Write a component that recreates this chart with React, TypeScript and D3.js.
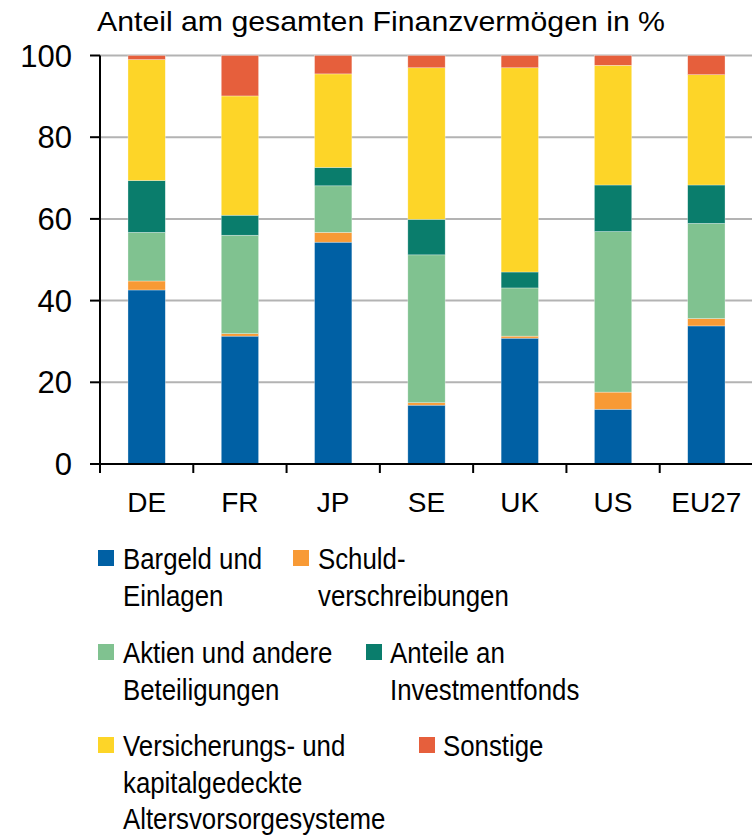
import React from 'react';
import * as d3 from 'd3';

const countries = ['DE', 'FR', 'JP', 'SE', 'UK', 'US', 'EU27'];
const bargeld = [42.6, 31.3, 54.3, 14.4, 30.8, 13.4, 33.8];
const schuld = [2.2, 0.6, 2.4, 0.6, 0.5, 4.2, 1.8];
const aktien = [11.9, 24.1, 11.4, 36.2, 11.8, 39.3, 23.3];
const fonds = [12.7, 4.9, 4.5, 8.7, 3.9, 11.4, 9.4];
const versicherung = [29.6, 29.2, 22.9, 37.1, 50.0, 29.3, 27.0];
const sonstige = [1.0, 9.9, 4.5, 3.0, 3.0, 2.4, 4.7];
const yTicks = [0, 20, 40, 60, 80, 100];

const seriesKeys = ['bargeld', 'schuld', 'aktien', 'fonds', 'versicherung', 'sonstige'];
const colors: Record<string, string> = {
  bargeld: '#0060A4',
  schuld: '#F89A35',
  aktien: '#80C290',
  fonds: '#0A7D6C',
  versicherung: '#FDD528',
  sonstige: '#E65F3C',
};

// legend entries
const legendItems: { key: string; lines: string[]; sx: number; tx: number; y: number }[] = [
  { key: 'bargeld', lines: ['Bargeld und', 'Einlagen'], sx: 98, tx: 123, y: 569 },
  { key: 'schuld', lines: ['Schuld-', 'verschreibungen'], sx: 293, tx: 318, y: 569 },
  { key: 'aktien', lines: ['Aktien und andere', 'Beteiligungen'], sx: 98, tx: 123, y: 663 },
  { key: 'fonds', lines: ['Anteile an', 'Investmentfonds'], sx: 366, tx: 390, y: 663 },
  { key: 'versicherung', lines: ['Versicherungs- und', 'kapitalgedeckte', 'Altersvorsorgesysteme'], sx: 98, tx: 123, y: 756 },
  { key: 'sonstige', lines: ['Sonstige'], sx: 419, tx: 443, y: 756 },
];

const font = '"Liberation Sans", Arial, sans-serif';
const squeeze = 0.89;

export default function App() {
  const width = 752;
  const height = 835;
  const left = 100;
  const right = 753;
  const top = 55.5;
  const bottom = 464;

  const rows = countries.map((c, i) => ({
    country: c,
    bargeld: bargeld[i],
    schuld: schuld[i],
    aktien: aktien[i],
    fonds: fonds[i],
    versicherung: versicherung[i],
    sonstige: sonstige[i],
  }));

  const stacked = d3.stack<any>().keys(seriesKeys)(rows);

  const x = d3.scaleBand().domain(countries).range([left, right]).paddingInner(0.6).paddingOuter(0.3);
  const y = d3.scaleLinear().domain([0, 100]).range([bottom, top]);
  const step = x.step();

  return (
    <svg width={width} height={height} style={{ position: 'absolute', left: 0, top: 0, background: '#fff' }}>
      <text x={97} y={31} fontFamily={font} fontSize={28} fill="#000" textLength={568} lengthAdjust="spacingAndGlyphs">
        Anteil am gesamten Finanzvermögen in %
      </text>

      {yTicks.map(t => (
        <g key={t}>
          {t > 0 && <line x1={left} x2={width} y1={y(t)} y2={y(t)} stroke="#b3b3b3" strokeWidth={2} />}
          <line x1={left - 10} x2={left} y1={y(t)} y2={y(t)} stroke="#000" strokeWidth={2} />
          <text x={72} y={y(t)} dy="0.36em" textAnchor="end" fontFamily={font} fontSize={31} fill="#000">
            {t}
          </text>
        </g>
      ))}

      {stacked.map(s => (
        <g key={s.key} fill={colors[s.key]}>
          {s.map((d, i) => (
            <rect
              key={i}
              x={x(countries[i])}
              y={y(d[1])}
              width={x.bandwidth()}
              height={y(d[0]) - y(d[1])}
              stroke="#ffffff"
              strokeOpacity={0.5}
              strokeWidth={0.6}
            />
          ))}
        </g>
      ))}

      <line x1={left} x2={left} y1={top} y2={bottom} stroke="#000" strokeWidth={2} />
      <line x1={left} x2={width} y1={bottom} y2={bottom} stroke="#000" strokeWidth={2} />
      {d3.range(countries.length + 1).map(i => (
        <line key={i} x1={left + i * step} x2={left + i * step} y1={bottom} y2={bottom + 9} stroke="#000" strokeWidth={2} />
      ))}
      {countries.map(c => (
        <text key={c} x={(x(c) ?? 0) + x.bandwidth() / 2} y={512} textAnchor="middle" fontFamily={font} fontSize={28} fill="#000">
          {c}
        </text>
      ))}

      {legendItems.map(item => (
        <g key={item.key}>
          <rect x={item.sx} y={item.y - 19} width={16} height={16} fill={colors[item.key]} />
          {item.lines.map((ln, j) => (
            <text
              key={j}
              transform={`translate(${item.tx},${item.y + j * 36.5}) scale(${squeeze},1)`}
              fontFamily={font}
              fontSize={29}
              fill="#000"
            >
              {ln}
            </text>
          ))}
        </g>
      ))}
    </svg>
  );
}
